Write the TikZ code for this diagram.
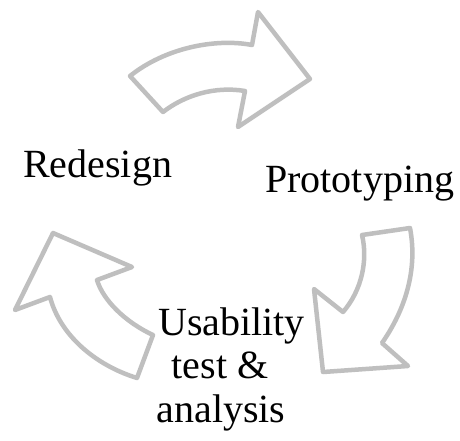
\documentclass[tikz,border=0pt]{standalone}
\usepackage{fontspec}
\setmainfont{Liberation Serif}
\begin{document}
\begin{tikzpicture}[x=1pt,y=-1pt,
  cyc/.style={draw=black!25, line width=4.5pt, line join=round, fill=white},
  lbl/.style={inner sep=0pt, font=\fontsize{40}{44}\selectfont}]
\useasboundingbox (0,0) rectangle (460,440);
% top arrow
\draw[cyc] (130,76) .. controls (165,48) and (215,38) .. (252,45)
  -- (258,12) -- (310,79) -- (238,127) -- (245,91)
  .. controls (215,86) and (185,95) .. (163,112) -- cycle;
% right arrow
\draw[cyc] (362,235) -- (410,228) .. controls (418,270) and (405,310) .. (382,343)
  -- (408,366) -- (323,372) -- (314,289) -- (343,312)
  .. controls (362,290) and (368,260) .. (362,235) -- cycle;
% left arrow
\draw[cyc] (137,378) -- (153,335) .. controls (125,322) and (103,300) .. (97,280)
  -- (132,267) -- (53,233) -- (15,310) -- (50,297)
  .. controls (60,335) and (95,365) .. (137,378) -- cycle;
\node[lbl, anchor=base west] (redesign) at (23,177) {Redesign};
\node[lbl, anchor=base west] (proto) at (265,192) {Prototyping};
\node[lbl, anchor=base] (u1) at (231.5,335) {Usability};
\node[lbl, anchor=base] (u2) at (220,378) {test \&};
\node[lbl, anchor=base] (u3) at (221,422) {analysis};
\end{tikzpicture}
\end{document}
